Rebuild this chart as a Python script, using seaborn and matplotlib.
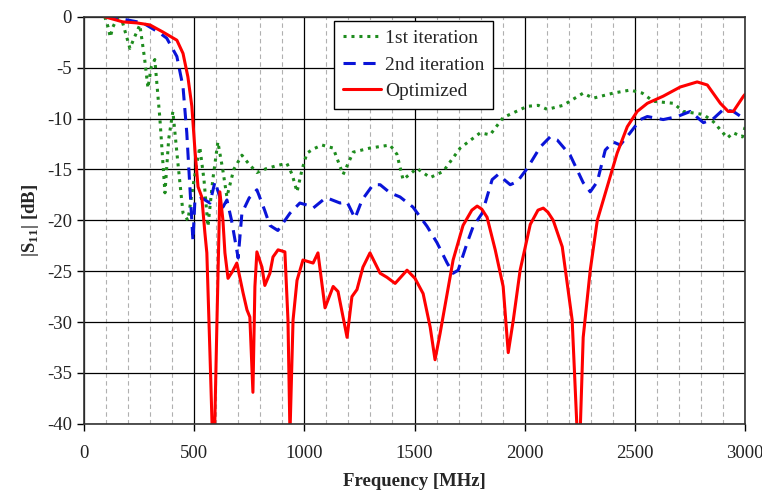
import numpy as np
import pandas as pd
import seaborn as sns
import matplotlib
matplotlib.use("Agg")
import matplotlib.pyplot as plt
from matplotlib.ticker import MultipleLocator

# ---- data ----
f_1st = [95, 110, 120, 132, 150, 175, 209, 230, 254, 275, 291, 305, 322, 345, 368, 385, 404, 425, 450, 472,
         500, 526, 545, 563, 585, 608, 630, 649, 680, 717, 750, 785, 830, 880, 921, 945, 967, 990, 1012, 1040,
         1080, 1131, 1176, 1222, 1298, 1389, 1420, 1448, 1511, 1571, 1630, 1707, 1798, 1843, 1902, 2011, 2061,
         2102, 2174, 2265, 2310, 2401, 2478, 2533, 2583, 2674, 2719, 2810, 2855, 2919, 2946, 2987, 3000]
s_1st = [0, -1.0, -2.0, -1.0, -0.2, -0.5, -3.1, -2.0, -0.8, -4.0, -7.0, -5.0, -4.2, -10.0, -17.3, -12.0, -9.3,
         -14.0, -19.3, -20.0, -16.0, -12.8, -16.0, -20.6, -16.0, -12.3, -15.0, -17.7, -15.0, -13.6, -14.5, -15.3,
         -14.9, -14.6, -14.4, -15.5, -17.2, -15.0, -13.4, -13.0, -12.6, -12.9, -15.5, -13.3, -12.9, -12.6, -13.5,
         -16.0, -14.9, -15.8, -15.2, -12.9, -11.4, -11.6, -9.9, -8.8, -8.7, -9.1, -8.7, -7.5, -8.0, -7.5, -7.2,
         -7.5, -8.3, -8.5, -9.3, -9.6, -10.3, -11.9, -11.4, -11.8, -10.8]

f_2nd = [100, 195, 268, 345, 376, 422, 450, 467, 481, 495, 504, 535, 572, 595, 631, 649, 670, 700, 717, 750,
         785, 820, 844, 880, 935, 980, 1012, 1040, 1085, 1103, 1162, 1194, 1230, 1262, 1312, 1344, 1389, 1434,
         1493, 1557, 1602, 1648, 1675, 1698, 1739, 1766, 1807, 1852, 1879, 1934, 1966, 2011, 2070, 2115, 2147,
         2206, 2265, 2297, 2329, 2365, 2401, 2433, 2478, 2524, 2556, 2628, 2692, 2751, 2810, 2851, 2901, 2946,
         2987, 3000]
s_2nd = [0, -0.3, -0.6, -1.6, -2.1, -3.9, -6.9, -11.4, -16.7, -22.0, -18.0, -17.8, -18.3, -16.2, -18.7, -18.0,
         -20.0, -23.7, -19.3, -17.8, -17.0, -19.0, -20.5, -21.0, -19.3, -18.3, -18.5, -18.8, -18.0, -17.8, -18.3,
         -18.2, -19.8, -18.0, -16.5, -16.5, -17.3, -17.7, -18.7, -20.6, -22.2, -24.2, -25.2, -24.9, -22.2, -20.6,
         -19.3, -16.0, -15.5, -16.5, -16.2, -14.9, -12.8, -11.8, -12.1, -13.6, -16.3, -17.2, -16.2, -13.1, -12.3,
         -12.6, -11.4, -10.1, -9.8, -10.1, -9.8, -9.3, -10.4, -10.1, -9.1, -9.3, -9.9, -10.0]

f_opt = [95, 177, 240, 300, 359, 422, 450, 472, 490, 504, 518, 535, 549, 558, 572, 583, 593, 604, 617, 631,
         640, 654, 675, 694, 722, 740, 753, 767, 776, 785, 808, 821, 844, 858, 881, 912, 926, 935, 949, 967,
         994, 1040, 1062, 1094, 1131, 1153, 1194, 1216, 1239, 1266, 1298, 1344, 1375, 1412, 1466, 1502, 1539,
         1571, 1593, 1616, 1648, 1675, 1720, 1760, 1784, 1805, 1829, 1866, 1902, 1925, 1948, 1979, 2025, 2060,
         2084, 2105, 2129, 2170, 2215, 2238, 2251, 2265, 2297, 2329, 2374, 2419, 2465, 2510, 2556, 2628, 2705,
         2782, 2828, 2887, 2923, 2946, 2992, 3000]
s_opt = [0, -0.5, -0.6, -0.8, -1.5, -2.3, -3.6, -5.9, -8.8, -13.1, -16.7, -17.7, -21.2, -23.2, -33.0, -41.0,
         -41.0, -29.8, -17.2, -20.0, -23.2, -25.7, -25.0, -24.2, -27.1, -28.8, -29.5, -36.9, -26.5, -23.1, -24.6,
         -26.4, -25.2, -23.6, -22.9, -23.1, -29.8, -41.0, -29.8, -25.9, -23.9, -24.2, -23.2, -28.6, -26.5, -27.0,
         -31.5, -27.5, -26.8, -24.6, -23.2, -25.2, -25.6, -26.2, -24.9, -25.7, -27.2, -30.5, -33.7, -31.1, -27.2,
         -23.9, -20.5, -19.0, -18.6, -18.9, -19.7, -22.9, -26.5, -33.0, -29.8, -24.9, -20.4, -19.0, -18.8, -19.2,
         -20.0, -22.6, -29.8, -41.0, -41.0, -31.5, -24.9, -20.0, -16.7, -13.4, -10.8, -9.3, -8.5, -7.8, -6.9,
         -6.4, -6.7, -8.5, -9.3, -9.3, -7.8, -7.6]

labels = ["1st iteration", "2nd iteration", "Optimized"]
x_ticks = [0, 500, 1000, 1500, 2000, 2500, 3000]
y_ticks = [0, -5, -10, -15, -20, -25, -30, -35, -40]

sns.set_theme(style="white")
plt.rcParams['font.family'] = ['Liberation Serif', 'DejaVu Serif']
plt.rcParams['axes.unicode_minus'] = False
plt.rcParams['mathtext.fontset'] = 'custom'
plt.rcParams['mathtext.rm'] = 'Liberation Serif'
plt.rcParams['mathtext.bf'] = 'Liberation Serif:bold'

fig = plt.figure(figsize=(7.62, 4.94), dpi=100)
ax = fig.add_axes([0.110, 0.142, 0.868, 0.824])

df1 = pd.DataFrame({"f": f_1st, "s": s_1st})
df2 = pd.DataFrame({"f": f_2nd, "s": s_2nd})
df3 = pd.DataFrame({"f": f_opt, "s": s_opt})

sns.lineplot(data=df1, x="f", y="s", ax=ax, color="#1e8c1e", linestyle=(0, (1, 1.6)), linewidth=2.2,
             label=labels[0], sort=False)
sns.lineplot(data=df2, x="f", y="s", ax=ax, color="#0a14d8", linestyle=(0, (4, 2.5)), linewidth=2.2,
             label=labels[1], sort=False)
sns.lineplot(data=df3, x="f", y="s", ax=ax, color="#ff0000", linestyle="-", linewidth=2.2,
             label=labels[2], sort=False)

ax.set_xlim(0, 3000)
ax.set_ylim(-40, 0)
ax.set_xticks(x_ticks)
ax.set_yticks(y_ticks)
ax.xaxis.set_minor_locator(MultipleLocator(100))
ax.grid(which="major", axis="both", color="black", linewidth=0.9, linestyle="-")
ax.grid(which="minor", axis="x", color="#b0b0b0", linewidth=0.8, linestyle=(0, (4, 3)))
ax.set_axisbelow(True)

for sp in ax.spines.values():
    sp.set_color("#333333")
    sp.set_linewidth(1.2)

ax.tick_params(axis="both", which="major", direction="out", length=5, width=1, color="black",
               labelsize=13.5, labelcolor="#222222", bottom=True, left=True)
ax.tick_params(axis="x", which="minor", length=0)
ax.tick_params(axis="x", pad=10)

ax.set_xlabel("Frequency [MHz]", fontsize=13.5, fontweight="bold", labelpad=8)
ax.set_ylabel(r"|S$_{\mathbf{11}}$| [dB]", fontsize=13.5, fontweight="bold", labelpad=4)

leg = ax.legend(loc="upper left", bbox_to_anchor=(0.378, 0.99), fontsize=14, frameon=True,
                fancybox=False, framealpha=1, edgecolor="black", handlelength=2.0, handletextpad=0.2,
                borderpad=0.45, labelspacing=0.45, borderaxespad=0)
leg.get_frame().set_linewidth(1.0)

fig.savefig("out.png", dpi=100)
